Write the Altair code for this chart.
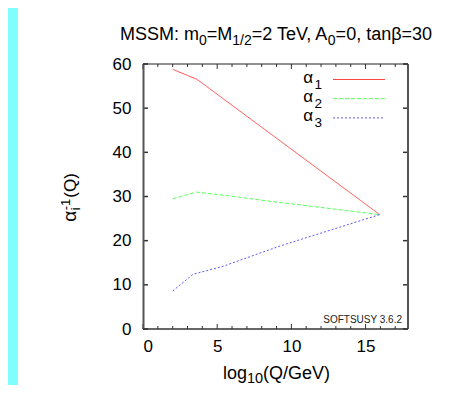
import altair as alt
import pandas as pd

# ---- data ----
series_names = ["α1", "α2", "α3"]
a1_q = [2.0, 3.65, 15.95]
a1_v = [58.8, 56.5, 25.9]
a2_q = [2.0, 3.6, 5.9, 7.9, 15.95]
a2_v = [29.5, 31.0, 30.1, 29.2, 25.9]
a3_q = [2.0, 3.38, 5.4, 7.9, 9.24, 15.95]
a3_v = [8.6, 12.4, 14.2, 17.2, 18.8, 25.9]

x_major = [0, 5, 10, 15]
x_minor = [1, 2, 3, 4, 6, 7, 8, 9, 11, 12, 13, 14, 16, 17]
y_major = [0, 10, 20, 30, 40, 50, 60]
legend_subs = ["1", "2", "3"]
# (text, is_subscript) pieces of the rich-text labels
title_parts = [("MSSM: m", 0), ("0", 1), ("=M", 0), ("1/2", 1), ("=2 TeV, A", 0), ("0", 1), ("=0, tanβ=30", 0)]
xtitle_parts = [("log", 0), ("10", 1), ("(Q/GeV)", 0)]
credit = "SOFTSUSY 3.6.2"

colors = ["#ff4848", "#55ff55", "#5a5aff"]
dashes = [[1, 0], [4, 2], [2, 2]]

W, H = 265, 265
FONT = "Liberation Sans, Arial, DejaVu Sans"

# Arial/Liberation Sans advance widths (per 1000 em) for layout of rich text
AW = {'M': 833, 'S': 667, ':': 278, ' ': 278, 'm': 833, '=': 584, '/': 278, 'T': 611,
      'e': 556, 'V': 667, ',': 278, 'A': 667, 't': 278, 'a': 556, 'n': 556, 'β': 575,
      'l': 222, 'o': 556, 'g': 556, '(': 333, ')': 333, 'Q': 778, 'G': 778, 'α': 578,
      'i': 222, '-': 333}
for d in "0123456789":
    AW[d] = 556
KERN = {('T', 'e'): -111, ('V', ','): -135}


def tw(s, size):
    w = sum(AW.get(c, 556) for c in s)
    w += sum(KERN.get((a, b), 0) for a, b in zip(s, s[1:]))
    return w * size / 1000.0


rows = []
for name, qs, vs in [("α1", a1_q, a1_v), ("α2", a2_q, a2_v), ("α3", a3_q, a3_v)]:
    for q, v in zip(qs, vs):
        rows.append({"series": name, "q": q, "v": v})
df = pd.DataFrame(rows)

xscale = alt.Scale(domain=[0, 17.86], nice=False, zero=False)
yscale = alt.Scale(domain=[0, 60], nice=False, zero=False)

xaxis = alt.Axis(
    values=x_major, ticks=False, domain=False, grid=False,
    labelFontSize=17, labelFont=FONT, labelColor="#000", labelPadding=9, title=None)
yaxis = alt.Axis(
    values=y_major, ticks=False, domain=False, grid=False,
    labelFontSize=17, labelFont=FONT, labelColor="#000", labelPadding=12, title=None)

one = pd.DataFrame({"k": [0]})


def txt(s, x, y, size, align="left", angle=0, color="#000"):
    return alt.Chart(one).mark_text(align=align, baseline="alphabetic", fontSize=size,
                                    font=FONT, color=color, angle=angle).encode(
        x=alt.value(x), y=alt.value(y), text=alt.value(s))


def rich_h(parts, cx, base, main, sub, sub_dy):
    total = sum(tw(s, sub if is_sub else main) for s, is_sub in parts)
    x = cx - total / 2
    out = []
    for s, is_sub in parts:
        size = sub if is_sub else main
        out.append(txt(s, x, base + (sub_dy if is_sub else 0), size))
        x += tw(s, size)
    return out


# cyan strip on the left
strip = alt.Chart(one).mark_rect(color="#80ffff").encode(
    x=alt.value(-135), x2=alt.value(-125), y=alt.value(-60), y2=alt.value(H + 70)
)

lines = alt.Chart(df).mark_line(strokeWidth=1).encode(
    x=alt.X("q:Q", scale=xscale, axis=xaxis),
    y=alt.Y("v:Q", scale=yscale, axis=yaxis),
    color=alt.Color("series:N", scale=alt.Scale(domain=series_names, range=colors), legend=None),
    strokeDash=alt.StrokeDash("series:N", scale=alt.Scale(domain=series_names, range=dashes), legend=None),
)


def xticks(vals, length):
    d = pd.DataFrame({"q": vals})
    bot = alt.Chart(d).mark_rule(color="#333", strokeWidth=1).encode(
        x=alt.X("q:Q", scale=xscale, axis=xaxis), y=alt.value(H), y2=alt.value(H - length))
    top = alt.Chart(d).mark_rule(color="#333", strokeWidth=1).encode(
        x=alt.X("q:Q", scale=xscale, axis=xaxis), y=alt.value(0), y2=alt.value(length))
    return [bot, top]


def yticks(vals, length):
    d = pd.DataFrame({"v": vals})
    left = alt.Chart(d).mark_rule(color="#333", strokeWidth=1.5).encode(
        y=alt.Y("v:Q", scale=yscale, axis=yaxis), x=alt.value(0), x2=alt.value(length))
    right = alt.Chart(d).mark_rule(color="#333", strokeWidth=1.5).encode(
        y=alt.Y("v:Q", scale=yscale, axis=yaxis), x=alt.value(W), x2=alt.value(W - length))
    return [left, right]


borders = [
    alt.Chart(one).mark_rule(color="#555", strokeWidth=2).encode(
        x=alt.value(0.5), y=alt.value(0), y2=alt.value(H)),
    alt.Chart(one).mark_rule(color="#555", strokeWidth=2).encode(
        x=alt.value(W), y=alt.value(0), y2=alt.value(H)),
    alt.Chart(one).mark_rule(color="#222", strokeWidth=1).encode(
        y=alt.value(0), x=alt.value(0), x2=alt.value(W)),
    alt.Chart(one).mark_rule(color="#333", strokeWidth=1.5).encode(
        y=alt.value(H), x=alt.value(0), x2=alt.value(W)),
]

legend_layers = []
for i, sub in enumerate(legend_subs):
    ry = 15.5 + i * 19.2
    legend_layers.append(txt("α", 170, ry + 3.5, 17, align="right"))
    legend_layers.append(txt(sub, 179, ry + 9, 13.5, align="right"))
    legend_layers.append(
        alt.Chart(one).mark_rule(color=colors[i], strokeWidth=1, strokeDash=dashes[i]).encode(
            x=alt.value(190), x2=alt.value(242), y=alt.value(ry)))

title_layers = rich_h(title_parts, W / 2 + 0.5, -24, 18, 14, 5)
xtitle_layers = rich_h(xtitle_parts, W / 2 + 1, H + 50, 18, 14.5, 4)

# rotated y title: alpha_i^{-1}(Q), reading bottom to top
yb = -67
w_a = tw("α", 19)
w_s = max(tw("i", 13), tw("-1", 13))
w_q = tw("(Q)", 17)
L = w_a + w_s + w_q + 1.5
y0 = H / 2 + 1 + L / 2
ytitle_layers = [
    txt("α", yb, y0, 19, angle=270),
    txt("i", yb + 4, y0 - w_a - 0.5, 13, angle=270),
    txt("-1", yb - 6, y0 - w_a - 0.5, 13, angle=270),
    txt("(Q)", yb, y0 - w_a - w_s - 1.5, 17, angle=270),
]

credit_text = txt(credit, W - 6, H - 6, 10, align="right", color="#222")

layers = [strip, lines] + xticks(x_major, 5) + xticks(x_minor, 3) + yticks(y_major, 5) \
    + borders + legend_layers + title_layers + xtitle_layers + ytitle_layers + [credit_text]

chart = alt.layer(*layers).properties(
    width=W, height=H,
    autosize=alt.AutoSizeParams(type="none"),
    padding={"left": 135, "top": 56, "right": 40, "bottom": 56},
).configure_view(stroke=None)

chart.save("out.html", embed_options={"renderer": "svg", "actions": False})
